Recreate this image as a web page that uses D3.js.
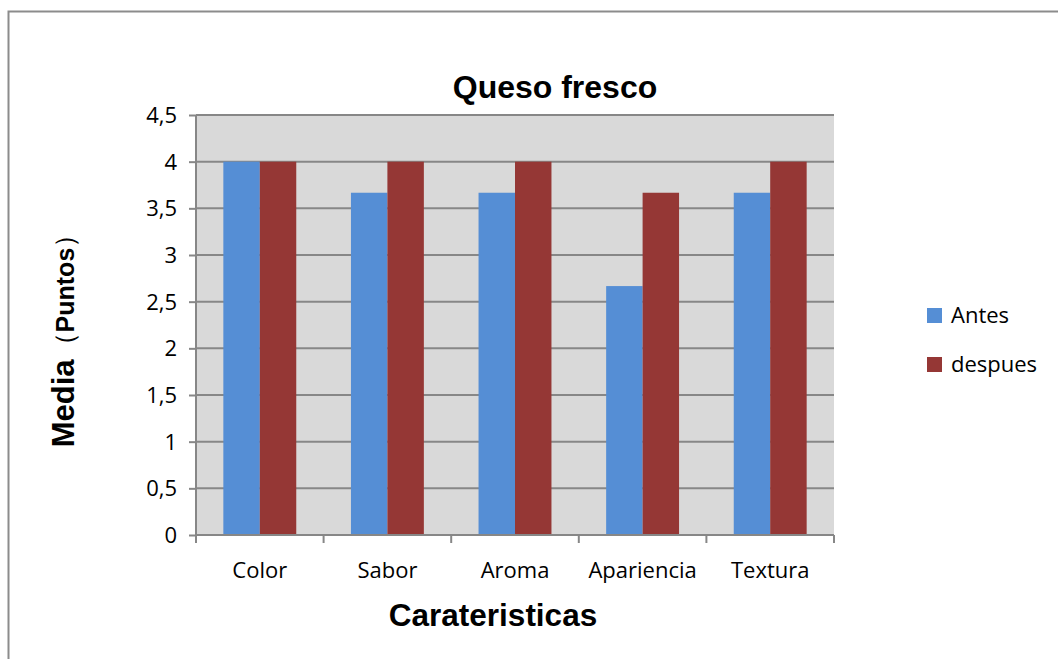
<!DOCTYPE html>
<html>
<head>
<meta charset="utf-8">
<script src="https://cdn.jsdelivr.net/npm/d3@7"></script>
<style>
  html, body { margin: 0; padding: 0; background: #fff; }
  svg { display: block; }
</style>
</head>
<body>
<svg id="chart" width="1058" height="659"></svg>
<script>
// Sensory scores of fresh cheese, before and after
const categories = ["Color", "Sabor", "Aroma", "Apariencia", "Textura"];
const antes = [4, 3.667, 3.667, 2.667, 3.667];
const despues = [4, 4, 4, 3.667, 4];
const seriesNames = ["Antes", "despues"];
const seriesColors = ["#558ed5", "#953735"];
const yTicks = [0, 0.5, 1, 1.5, 2, 2.5, 3, 3.5, 4, 4.5];

const svg = d3.select("#chart");
const tickFont = "'Open Sans', Lato, sans-serif";
const titleFont = "'Liberation Sans', Arial, sans-serif";
const axisGray = "#878787";

// outer frame
svg.append("rect")
  .attr("x", 8.5).attr("y", 11.5)
  .attr("width", 1200).attr("height", 1000)
  .attr("fill", "none").attr("stroke", "#8c8c8c").attr("stroke-width", 2);

const plot = { left: 196, right: 834, top: 115, bottom: 535 };

const x = d3.scaleBand().domain(categories).range([plot.left, plot.right]).paddingInner(0).paddingOuter(0);
const y = d3.scaleLinear().domain([0, 4.5]).range([plot.bottom, plot.top]);

// plot background
svg.append("rect")
  .attr("x", plot.left).attr("y", plot.top)
  .attr("width", plot.right - plot.left).attr("height", plot.bottom - plot.top)
  .attr("fill", "#d9d9d9");

// horizontal gridlines
svg.append("g").selectAll("line").data(yTicks.filter(d => d > 0)).join("line")
  .attr("x1", plot.left).attr("x2", plot.right)
  .attr("y1", d => y(d)).attr("y2", d => y(d))
  .attr("stroke", axisGray).attr("stroke-width", 2);

// bars: two per category, gap of 1.5 bar widths between groups
const barW = x.bandwidth() / 3.5;
const rows = categories.map((c, i) => ({ c, vals: [antes[i], despues[i]] }));
const groups = svg.append("g").selectAll("g").data(rows).join("g");
groups.selectAll("rect").data(d => d.vals.map((v, k) => ({ c: d.c, v, k }))).join("rect")
  .attr("x", d => x(d.c) + x.bandwidth() / 2 - barW + d.k * barW)
  .attr("y", d => y(d.v))
  .attr("width", barW)
  .attr("height", d => y(0) - y(d.v))
  .attr("fill", d => seriesColors[d.k]);

// y axis
const yAxis = svg.append("g")
  .attr("transform", `translate(${plot.left},0)`)
  .call(d3.axisLeft(y).tickValues(yTicks).tickSize(7).tickPadding(12)
    .tickFormat(d => String(d).replace(".", ",")));
yAxis.select(".domain").attr("stroke", axisGray).attr("stroke-width", 2).attr("d", `M0,${plot.top}V${plot.bottom}`);
yAxis.selectAll(".tick line").attr("stroke", axisGray).attr("stroke-width", 2);
yAxis.selectAll(".tick text").attr("font-family", tickFont).attr("font-size", 22).attr("fill", "#000")
  .attr("dy", "0.34em");

// x axis
const xAxis = svg.append("g")
  .attr("transform", `translate(0,${plot.bottom})`)
  .call(d3.axisBottom(x).tickSize(0).tickPadding(0));
xAxis.select(".domain").attr("stroke", axisGray).attr("stroke-width", 2).attr("d", `M${plot.left},0H${plot.right}`);
xAxis.selectAll(".tick text").attr("font-family", tickFont).attr("font-size", 22).attr("fill", "#000")
  .attr("y", 43).attr("dy", 0);
// category boundary ticks
const bounds = categories.map(c => x(c)).concat([x(categories[categories.length - 1]) + x.bandwidth()]);
xAxis.append("g").selectAll("line").data(bounds).join("line")
  .attr("x1", d => d).attr("x2", d => d)
  .attr("y1", 0).attr("y2", 8)
  .attr("stroke", axisGray).attr("stroke-width", 2);

// title
svg.append("text")
  .attr("x", 555).attr("y", 98)
  .attr("text-anchor", "middle")
  .attr("font-family", titleFont).attr("font-weight", "bold").attr("font-size", 32)
  .text("Queso fresco");

// x title
svg.append("text")
  .attr("x", 493).attr("y", 626)
  .attr("text-anchor", "middle")
  .attr("font-family", titleFont).attr("font-weight", "bold").attr("font-size", 31.5)
  .text("Carateristicas");

// y title
const yt = svg.append("text")
  .attr("transform", "translate(74,334) rotate(-90)")
  .attr("text-anchor", "middle")
  .attr("font-family", titleFont).attr("font-weight", "bold").attr("font-size", 31);
yt.append("tspan").text("Media");
yt.append("tspan").attr("font-size", 27).attr("font-weight", "normal").text("（");
yt.append("tspan").attr("font-size", 25).text("Puntos");
yt.append("tspan").attr("font-size", 27).attr("font-weight", "normal").text("）");

// legend
const legend = svg.append("g").selectAll("g").data(seriesNames).join("g")
  .attr("transform", (d, i) => `translate(927,${308 + i * 49})`);
legend.append("rect").attr("width", 15).attr("height", 15).attr("fill", (d, i) => seriesColors[i]);
legend.append("text")
  .attr("x", 24).attr("y", 15)
  .attr("font-family", tickFont).attr("font-size", 22).attr("fill", "#000")
  .text(d => d);
</script>
</body>
</html>
